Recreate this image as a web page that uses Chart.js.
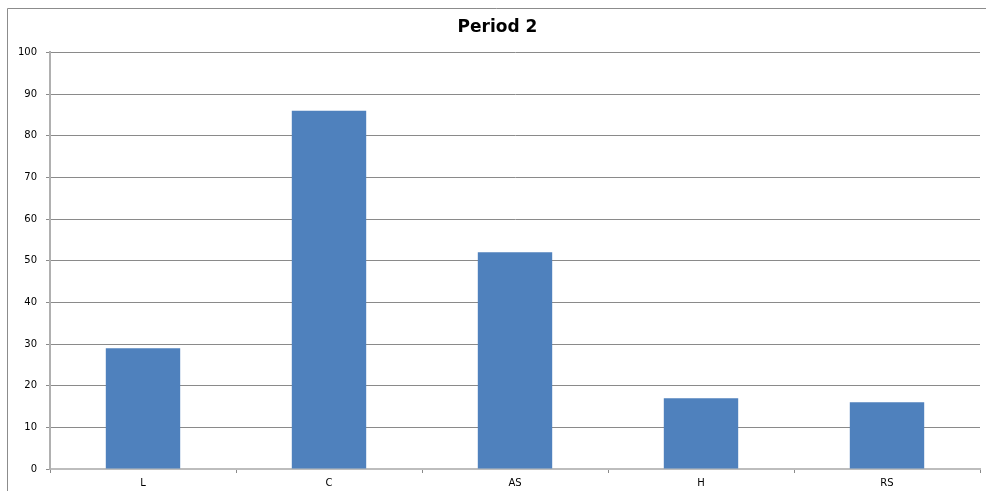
<!DOCTYPE html>
<html>
<head>
<meta charset="utf-8">
<script src="https://cdn.jsdelivr.net/npm/chart.js@4/dist/chart.umd.min.js"></script>
<style>
  html, body { margin: 0; padding: 0; background: #fff; overflow: hidden; }
  .wrap { position: absolute; left: 0; top: 0; width: 986px; height: 491px; }
</style>
</head>
<body>
<div class="wrap"><canvas id="periodChart"></canvas></div>
<script>
const categories = ['L', 'C', 'AS', 'H', 'RS'];
const scores = [29, 86, 52, 17, 16];
const yTicks = [0, 10, 20, 30, 40, 50, 60, 70, 80, 90, 100];

const ctx = document.getElementById('periodChart').getContext('2d');
const FONT = 'DejaVu Sans, Verdana, sans-serif';

// outer chart frame, only its top and left edges fall inside the canvas
const framePlugin = {
  id: 'frame',
  beforeDraw(chart) {
    const c = chart.ctx;
    c.save();
    c.strokeStyle = '#8c8c8c';
    c.lineWidth = 1;
    c.beginPath();
    c.moveTo(7.5, chart.height);
    c.lineTo(7.5, 8.5);
    c.lineTo(chart.width, 8.5);
    c.stroke();
    c.restore();
  },
};

new Chart(ctx, {
  type: 'bar',
  data: {
    labels: categories,
    datasets: [{
      label: 'Period 2',
      data: scores,
      backgroundColor: '#4f81bd',
      borderWidth: 0,
      categoryPercentage: 1,
      barPercentage: 0.4,
    }],
  },
  options: {
    responsive: true,
    maintainAspectRatio: false,
    animation: false,
    layout: { padding: { left: 15, right: 6, top: 0, bottom: 0 } },
    plugins: {
      legend: { display: false },
      tooltip: { enabled: false },
      title: {
        display: true,
        text: 'Period 2',
        color: '#000',
        font: { family: FONT, size: 17, weight: 'bold' },
        padding: { top: 17, bottom: 15 },
      },
    },
    scales: {
      x: {
        grid: {
          offset: true,
          drawOnChartArea: false,
          drawTicks: true,
          tickLength: 4,
          color: '#8a8a8a',
        },
        border: { color: '#bdbdbd', width: 2 },
        ticks: { color: '#000', font: { family: FONT, size: 10 }, padding: 4 },
        afterFit(scale) { scale.height = 22; },
      },
      y: {
        min: 0,
        max: 100,
        afterBuildTicks(scale) { scale.ticks = yTicks.map((v) => ({ value: v })); },
        grid: { color: '#8a8a8a', tickLength: 4 },
        border: { color: '#b0b0b0', width: 2 },
        ticks: { color: '#000', font: { family: FONT, size: 10 }, padding: 9 },
        afterFit(scale) { scale.width = 35; },
      },
    },
  },
  plugins: [framePlugin],
});
</script>
</body>
</html>
